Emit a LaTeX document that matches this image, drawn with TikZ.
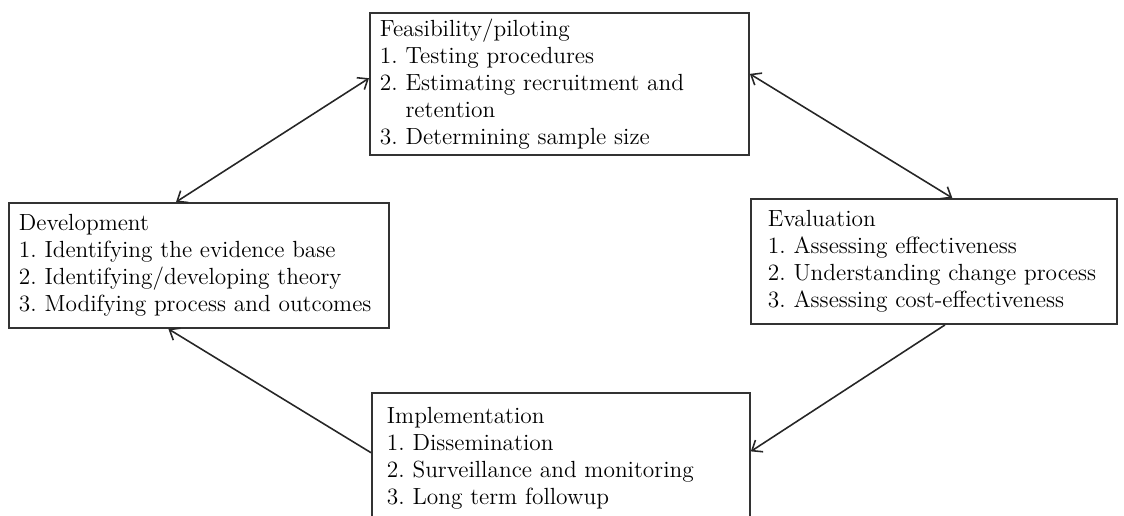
\documentclass[tikz,border=0pt]{standalone}
\usepackage{fontspec}
\usetikzlibrary{arrows.meta,calc}
\frenchspacing
\tikzstyle{stage}=[rectangle, draw=black!80, line width=1.1pt,
                   anchor=north west, inner xsep=0.2cm, inner ysep=2pt,
                   align=left, font=\fontsize{13.3}{15.4}\selectfont]
\tikzstyle{link} =[draw=black!85, line width=0.9pt,
                   >={Straight Barb[length=5pt,width=8pt]}]

\begin{document}
\begin{tikzpicture}[x=0.02cm, y=-0.02cm]
    \useasboundingbox (0,0) rectangle (1124,515);
    \clip (0,0) rectangle (1124,515);
    % the four stages
    \node[stage, text width=7.18cm, minimum height=2.84cm] (feas) at (369,12)
        {Feasibility/piloting\\
         1. Testing procedures\\
         2. Estimating recruitment and\\
         \phantom{2. }retention\\
         3. Determining sample size};
    \node[stage, text width=7.2cm, minimum height=2.5cm] (dev) at (8,202)
        {Development\\
         1. Identifying the evidence base\\
         2. Identifying/developing theory\\
         3. Modifying process and outcomes};
    \node[stage, inner xsep=0.34cm, text width=6.64cm, minimum height=2.5cm]
        (eval) at (750,198)
        {Evaluation\\
         1. Assessing effectiveness\\
         2. Understanding change process\\
         3. Assessing cost-effectiveness};
    \node[stage, inner xsep=0.3cm, text width=6.96cm, minimum height=2.6cm]
        (impl) at (371,392)
        {Implementation\\
         1. Dissemination\\
         2. Surveillance and monitoring\\
         3. Long term followup};
    % cycle
    \draw[link, <->] ($(feas.north west)!0.46!(feas.south west)$)
        -- ($(dev.north west)!0.44!(dev.north east)$);
    \draw[link, <->] ($(feas.north east)!0.43!(feas.south east)$)
        -- ($(eval.north west)!0.55!(eval.north east)$);
    \draw[link, ->] ($(eval.south west)!0.53!(eval.south east)$)
        -- ($(impl.north east)!0.45!(impl.south east)$);
    \draw[link, ->] ($(impl.north west)!0.46!(impl.south west)$)
        -- ($(dev.south west)!0.42!(dev.south east)$);
\end{tikzpicture}
\end{document}
